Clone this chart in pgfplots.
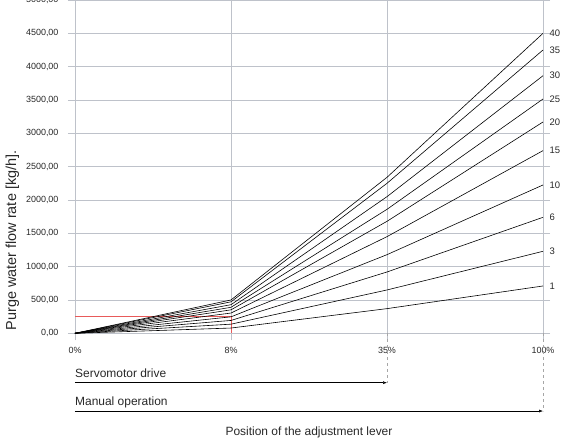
\documentclass[border=0pt]{standalone}
\usepackage{fontspec}
\setmainfont{Liberation Sans}
\usepackage{pgfplots}
\pgfplotsset{compat=1.18}
\usetikzlibrary{arrows.meta}
\definecolor{gridc}{RGB}{190,194,202}
\definecolor{redc}{RGB}{232,90,90}
\definecolor{txt}{RGB}{40,40,40}
\begin{document}
\begin{tikzpicture}
\begin{axis}[
  name=ax, at={(0,0)}, anchor=south west,
  scale only axis, width=468bp, height=333.3bp,
  xmin=0, xmax=3, ymin=0, ymax=5000,
  xtick={0,1,2,3}, xticklabels={0\%,8\%,35\%,100\%},
  ytick={0,500,...,5000},
  grid=major, grid style={gridc, line width=0.6pt},
  axis line style={draw=none},
  tick align=outside, major tick length=7bp,
  tick style={gridc, line width=0.6pt},
  clip=false,
  tick label style={font=\fontsize{9}{10}\selectfont, text=txt},
  yticklabel style={/pgf/number format/fixed, /pgf/number format/fixed zerofill,
    /pgf/number format/precision=2, /pgf/number format/use comma,
    /pgf/number format/1000 sep={}, /pgf/number format/assume math mode=true, xshift=-6bp},
  xticklabel style={yshift=-3bp},
]
\addplot[redc, line width=0.9pt] coordinates {(0,250)(1,250)(1,0)};
\addplot[black, line width=0.6pt] coordinates {(0,0)(1,79)(2,370)(3,710)} node[pos=1, anchor=west, xshift=3bp, font=\fontsize{9.5}{10}\selectfont, text=txt] {1};
\addplot[black, line width=0.6pt] coordinates {(0,0)(1,137)(2,650)(3,1230)} node[pos=1, anchor=west, xshift=3bp, font=\fontsize{9.5}{10}\selectfont, text=txt] {3};
\addplot[black, line width=0.6pt] coordinates {(0,0)(1,193)(2,920)(3,1740)} node[pos=1, anchor=west, xshift=3bp, font=\fontsize{9.5}{10}\selectfont, text=txt] {6};
\addplot[black, line width=0.6pt] coordinates {(0,0)(1,247)(2,1180)(3,2225)} node[pos=1, anchor=west, xshift=3bp, font=\fontsize{9.5}{10}\selectfont, text=txt] {10};
\addplot[black, line width=0.6pt] coordinates {(0,0)(1,304)(2,1450)(3,2740)} node[pos=1, anchor=west, xshift=3bp, font=\fontsize{9.5}{10}\selectfont, text=txt] {15};
\addplot[black, line width=0.6pt] coordinates {(0,0)(1,352)(2,1680)(3,3170)} node[pos=1, anchor=west, xshift=3bp, font=\fontsize{9.5}{10}\selectfont, text=txt] {20};
\addplot[black, line width=0.6pt] coordinates {(0,0)(1,390)(2,1860)(3,3515)} node[pos=1, anchor=west, xshift=3bp, font=\fontsize{9.5}{10}\selectfont, text=txt] {25};
\addplot[black, line width=0.6pt] coordinates {(0,0)(1,429)(2,2050)(3,3864)} node[pos=1, anchor=west, xshift=3bp, font=\fontsize{9.5}{10}\selectfont, text=txt] {30};
\addplot[black, line width=0.6pt] coordinates {(0,0)(1,472)(2,2250)(3,4250)} node[pos=1, anchor=west, xshift=3bp, font=\fontsize{9.5}{10}\selectfont, text=txt] {35};
\addplot[black, line width=0.6pt] coordinates {(0,0)(1,500)(2,2340)(3,4500)} node[pos=1, anchor=west, xshift=3bp, font=\fontsize{9.5}{10}\selectfont, text=txt] {40};
% annotations below the axis
\draw[gray!70, dashed, line width=0.5pt] (axis cs:2,0) -- (axis cs:2,-741);
\draw[gray!70, dashed, line width=0.5pt] (axis cs:3,0) -- (axis cs:3,-1166);
\draw[-{Latex[length=4bp,width=3bp]}, line width=0.5pt] (axis cs:0,-741) -- (axis cs:2,-741);
\draw[-{Latex[length=4bp,width=3bp]}, line width=0.5pt] (axis cs:0,-1166) -- (axis cs:3,-1166);
\node[anchor=base west, inner sep=0pt, font=\fontsize{12}{13}\selectfont, text=txt] at (axis cs:0,-670) {Servomotor drive};
\node[anchor=base west, inner sep=0pt, font=\fontsize{12}{13}\selectfont, text=txt] at (axis cs:0,-1083) {Manual operation};
\node[anchor=base, inner sep=0pt, font=\fontsize{12}{13}\selectfont, text=txt] at (axis cs:1.5,-1540) {Position of the adjustment lever};
\node[rotate=90, anchor=west, inner sep=0pt, font=\fontsize{14.5}{15}\selectfont, text=txt] at (axis cs:-0.4006,40) {Purge water flow rate [kg/h].};
\end{axis}
\pgfresetboundingbox
\path[use as bounding box] ([xshift=-75bp, yshift=-109.7bp]ax.south west) rectangle ([xshift=25bp]ax.north east);
\end{tikzpicture}
\end{document}
